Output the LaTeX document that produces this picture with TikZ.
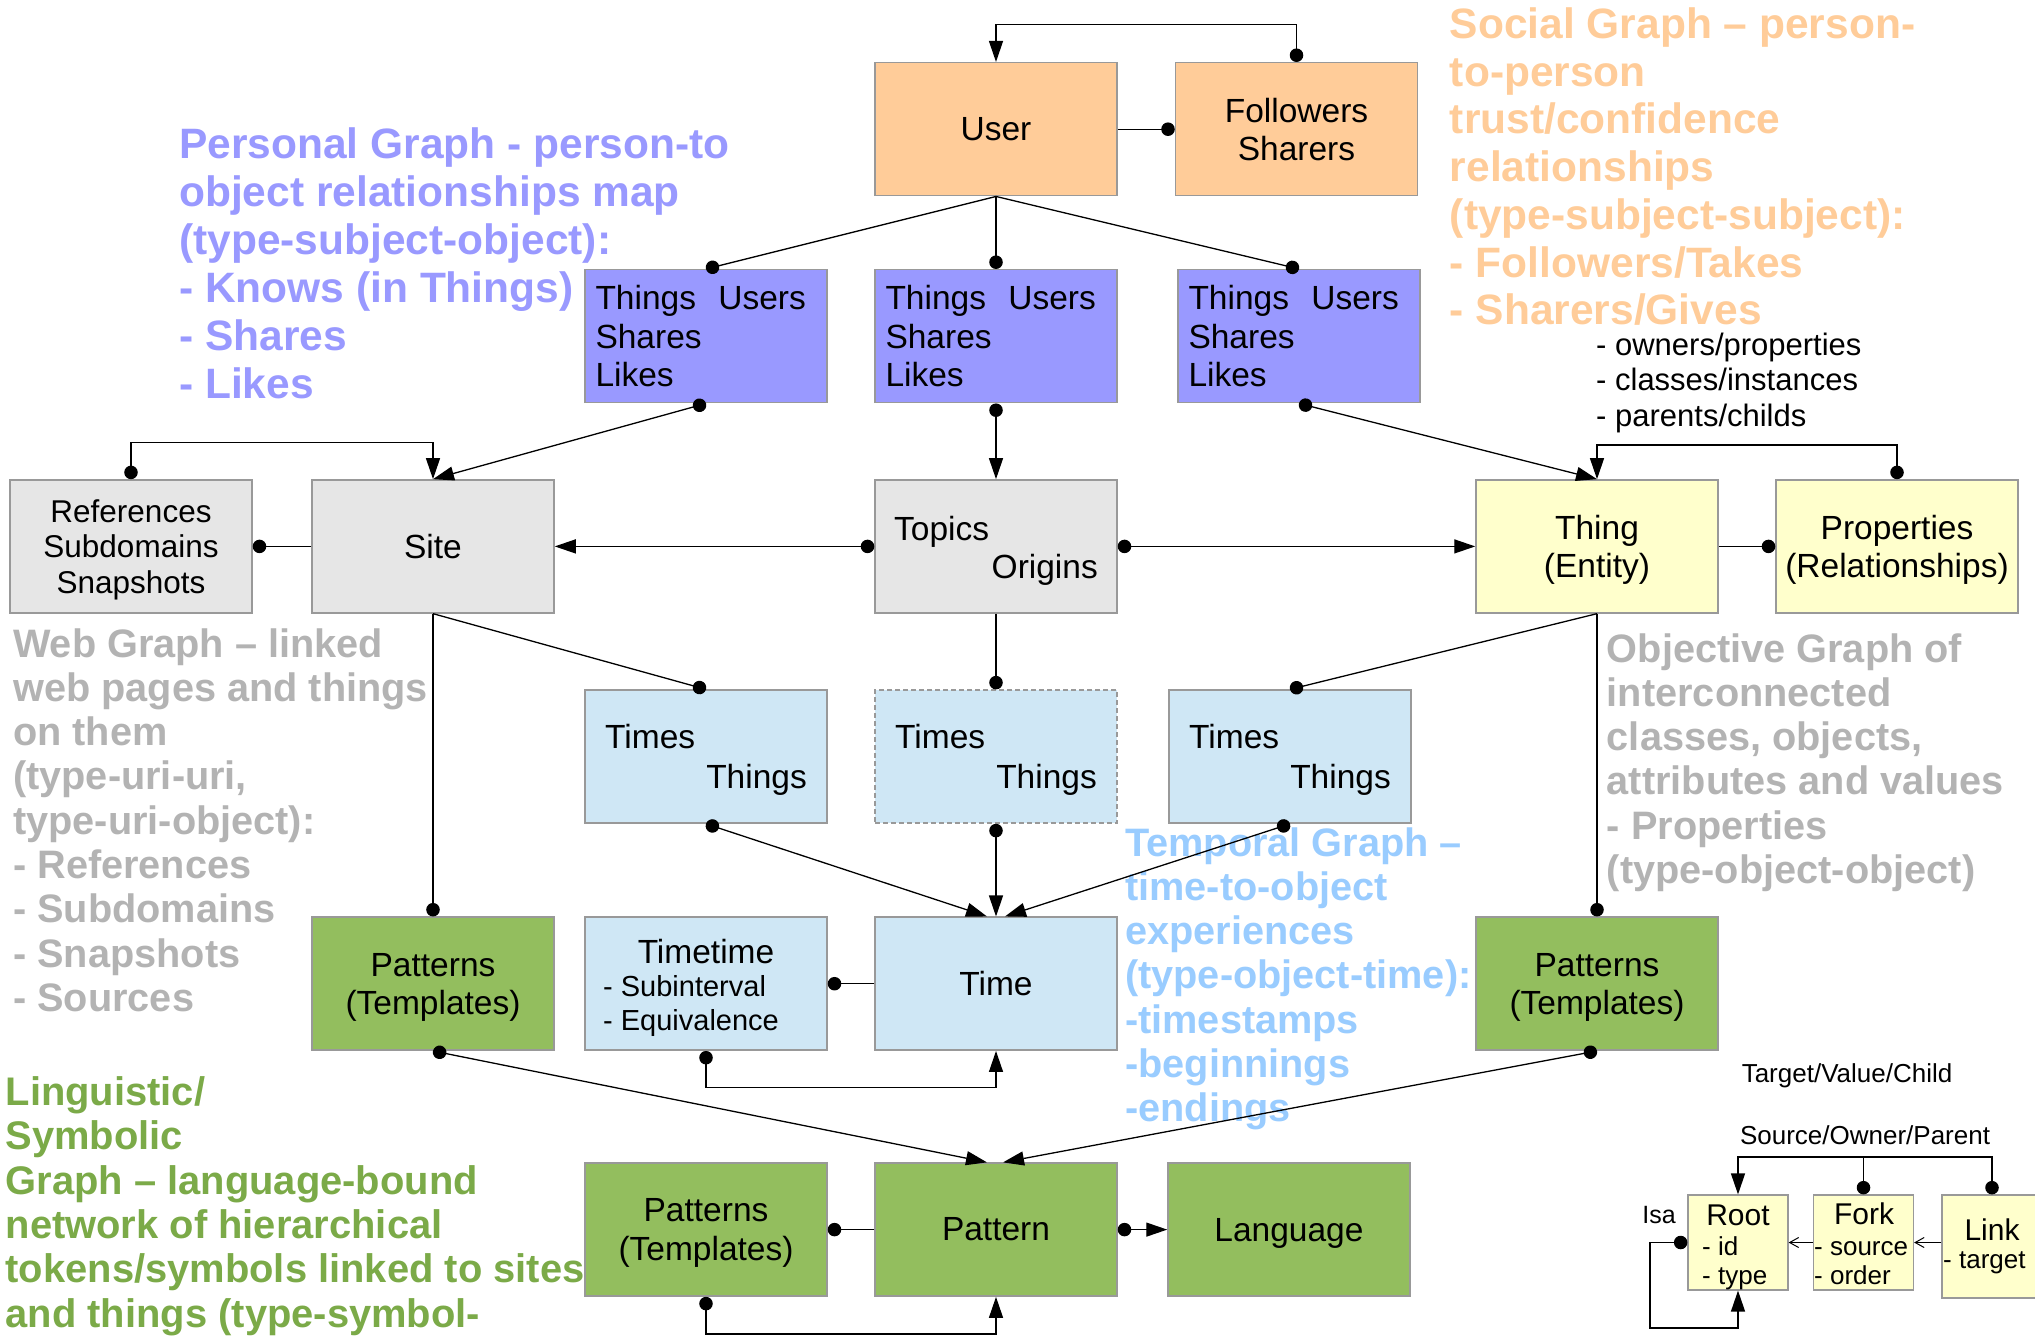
\documentclass[tikz,border=0pt]{standalone}
\usepackage{fontspec}
\setmainfont{Liberation Sans}
\usetikzlibrary{arrows.meta}

\definecolor{boxline}{HTML}{999999}
\definecolor{socialfill}{HTML}{FFCC99}
\definecolor{personalfill}{HTML}{9999FF}
\definecolor{webfill}{HTML}{E6E6E6}
\definecolor{objfill}{HTML}{FFFFCC}
\definecolor{timefill}{HTML}{CFE7F5}
\definecolor{langfill}{HTML}{93BE5E}
\definecolor{webtext}{HTML}{B3B3B3}
\definecolor{timetext}{HTML}{99CCFF}
\definecolor{langtext}{HTML}{7BAA48}

\tikzset{
  kdot/.tip={Circle[length=13.5pt]},
  ktri/.tip={Triangle[length=21pt,width=14pt]},
  kbarb/.tip={Straight Barb[length=9pt,width=10pt]},
}

\begin{document}
\begin{tikzpicture}[x=1pt,y=-1pt,
  box/.style={draw=boxline, line width=1.5pt, minimum width=242pt, minimum height=133pt,
    inner sep=0pt, align=center, font=\fontsize{33.5}{38.3}\selectfont},
  nodepth/.style={text depth=0pt},
  listbox/.style={box, text width=221pt, align=left},
  lbl/.style={inner sep=0pt, font=\fontsize{33.5}{38.3}\selectfont},
  sublbl/.style={inner sep=0pt, font=\fontsize{#1}{#1}\selectfont},
  note/.style={inner sep=0pt, font=\fontsize{#1}{#1}\bfseries\selectfont},
  legbox/.style={draw=boxline, line width=1.2pt, fill=objfill, minimum width=100pt,
    inner sep=0pt},
  conn/.style={line width=1.3pt, black},
]
\useasboundingbox (0,0) rectangle (2035,1342);

% ---------- descriptive captions of the sub-graphs ----------
\foreach \t [count=\i from 0] in {{Personal Graph - person-to},{object relationships map},
    {(type-subject-object):},{- Knows (in Things)},{- Shares},{- Likes}}
  \node[note=42.5, text=personalfill, anchor=base west] (pers\i) at (179,{158.7+48*\i}) {\t};

\foreach \t [count=\i from 0] in {{Social Graph – person-},{to-person},{trust/confidence},
    {relationships},{(type-subject-subject):},{- Followers/Takes},{- Sharers/Gives}}
  \node[note=42.5, text=socialfill, anchor=base west] (soc\i) at (1449.7,{38.5+47.7*\i}) {\t};

\foreach \t [count=\i from 0] in {{Web Graph – linked},{web pages and things},{on them},
    {(type-uri-uri,},{type-uri-object):},{- References},{- Subdomains},{- Snapshots},{- Sources}}
  \node[note=39.7, text=webtext, anchor=base west] (web\i) at (13,{657+44.3*\i}) {\t};

\foreach \t [count=\i from 0] in {{Objective Graph of},{interconnected},{classes, objects,},
    {attributes and values},{- Properties},{(type-object-object)}}
  \node[note=39.7, text=webtext, anchor=base west] (obj\i) at (1606.7,{662+44.3*\i}) {\t};

\foreach \t [count=\i from 0] in {{Temporal Graph –},{time-to-object},{experiences},
    {(type-object-time):},{-timestamps},{-beginnings},{-endings}}
  \node[note=39.7, text=timetext, anchor=base west] (tmp\i) at (1125,{856+44.3*\i}) {\t};

\foreach \t [count=\i from 0] in {{Linguistic/},{Symbolic},{Graph – language-bound},
    {network of hierarchical},{tokens/symbols linked to sites},{and things (type-symbol-}}
  \node[note=39.9, text=langtext, anchor=base west] (lng\i) at (5.5,{1105.5+44.3*\i}) {\t};

% ---------- social row ----------
\node[box, fill=socialfill] (user) at (996,129.2) {User};
\node[box, fill=socialfill] (foll) at (1296.5,129.2) {Followers\\Sharers};

% ---------- personal row ----------
\node[listbox, fill=personalfill] (lthings) at (706,336.2) {Things~~Users\\Shares\\Likes};
\node[listbox, fill=personalfill] (mthings) at (996,336.2) {Things~~Users\\Shares\\Likes};
\node[listbox, fill=personalfill] (rthings) at (1299,336.2) {Things~~Users\\Shares\\Likes};

% ---------- web / objective row ----------
\node[box, nodepth, fill=webfill, font=\fontsize{31.5}{35.7}\selectfont] (refs) at (131,546.4)
  {References\\Subdomains\\Snapshots};
\node[box, fill=webfill] (site) at (433,546.4) {Site};
\node[box, fill=webfill] (topics) at (996,546.4) {};
\node[lbl, anchor=base west] (topicsA) at (894,540) {Topics};
\node[lbl, anchor=base east] (topicsB) at (1098,578) {Origins};
\node[box, nodepth, fill=objfill] (thing) at (1597,546.4) {Thing\\(Entity)};
\node[box, nodepth, fill=objfill] (props) at (1897,546.4) {Properties\\(Relationships)};
\node[sublbl=31, anchor=base west] (own1) at (1596,355) {- owners/properties};
\node[sublbl=31, anchor=base west] (own2) at (1596,390.7) {- classes/instances};
\node[sublbl=31, anchor=base west] (own3) at (1596,426) {- parents/childs};

% ---------- temporal row ----------
\node[box, fill=timefill] (ltimes) at (706,756.6) {};
\node[box, fill=timefill, dash pattern=on 5pt off 3pt] (mtimes) at (996,756.6) {};
\node[box, fill=timefill] (rtimes) at (1290,756.6) {};
\foreach \n in {ltimes,mtimes,rtimes}{
  \node[lbl, anchor=base west] (\n A) at ([xshift=-101pt]\n.center) [yshift=8pt] {Times};
  \node[lbl, anchor=base east] (\n B) at ([xshift=101pt]\n.center) [yshift=-32pt] {Things};
}

% ---------- pattern / time row ----------
\node[box, nodepth, fill=langfill] (lpat) at (433,983.7) {Patterns\\(Templates)};
\node[box, fill=timefill] (timetime) at (706,983.7) {};
\node[lbl, anchor=base] (tt1) at (706,963) {Timetime};
\node[sublbl=29, anchor=base west] (tt2) at (603,996.4) {- Subinterval};
\node[sublbl=29, anchor=base west] (tt3) at (603,1030) {- Equivalence};
\node[box, fill=timefill] (time) at (996,983.7) {Time};
\node[box, nodepth, fill=langfill] (rpat) at (1597,983.7) {Patterns\\(Templates)};

% ---------- linguistic row ----------
\node[box, nodepth, fill=langfill] (ptb) at (706,1229.6) {Patterns\\(Templates)};
\node[box, fill=langfill] (pattern) at (996,1229.6) {Pattern};
\node[box, nodepth, fill=langfill] (lang) at (1289,1229.6) {Language};

% ---------- connectors ----------
\coordinate (t1) at (996,24.3);
\coordinate (t5) at (433,442.6);
\coordinate (t6) at (1597,445);
\coordinate (t7) at (996,1087.6);
\coordinate (t8) at (996,1334);

\draw[conn,kdot-ktri] (foll.north) |- (t1) -- (user.north);
\draw[conn,-kdot] (user.east) -- (foll.west);
\draw[conn,-kdot] (user.south) -- (lthings.north);
\draw[conn,-kdot] (user.south) -- (mthings.north);
\draw[conn,-kdot] (user.south) -- (rthings.north);

\draw[conn,kdot-ktri] (lthings.south) -- (site.north);
\draw[conn,kdot-ktri] (mthings.south) -- (topics.north);
\draw[conn,kdot-ktri] (rthings.south) -- (thing.north);

\draw[conn,kdot-ktri] (refs.north) |- (t5) -- (site.north);
\draw[conn,-kdot] (site.west) -- (refs.east);
\draw[conn,kdot-ktri] (topics.west) -- (site.east);
\draw[conn,kdot-ktri] (topics.east) -- (thing.west);
\draw[conn,-kdot] (thing.east) -- (props.west);
\draw[conn,kdot-ktri] (props.north) |- (t6) -- (thing.north);

\draw[conn,-kdot] (site.south) -- (ltimes.north);
\draw[conn,-kdot] (topics.south) -- (mtimes.north);
\draw[conn,-kdot] (thing.south) -- (rtimes.north);
\draw[conn,-kdot] (site.south) -- (lpat.north);
\draw[conn,-kdot] (thing.south) -- (rpat.north);

\draw[conn,kdot-ktri] (ltimes.south) -- ([xshift=-9pt]time.north);
\draw[conn,kdot-ktri] (mtimes.south) -- (time.north);
\draw[conn,kdot-ktri] (rtimes.south) -- ([xshift=9pt]time.north);
\draw[conn,-kdot] (time.west) -- (timetime.east);
\draw[conn,kdot-ktri] (timetime.south) |- (t7) -- (time.south);

\draw[conn,kdot-ktri] (lpat.south) -- ([xshift=-9pt]pattern.north);
\draw[conn,kdot-ktri] (rpat.south) -- ([xshift=7pt]pattern.north);
\draw[conn,-kdot] (pattern.west) -- (ptb.east);
\draw[conn,kdot-ktri] (pattern.east) -- (lang.west);
\draw[conn,kdot-ktri] (ptb.south) |- (t8) -- (pattern.south);

% ---------- legend ----------
\node[sublbl=26, anchor=base] (tvc) at (1847,1082) {Target/Value/Child};
\node[sublbl=26, anchor=base] (sop) at (1865,1144) {Source/Owner/Parent};
\node[sublbl=25, anchor=base] (isa) at (1659,1223) {Isa};

\node[legbox, minimum height=95pt] (root) at (1738,1242.5) {};
\node[legbox, minimum height=95pt] (fork) at (1863.5,1242.5) {};
\node[legbox, minimum height=103pt] (link) at (1992,1246.5) {};

\node[sublbl=30, anchor=base] (rootT) at (1738,1225) {Root};
\node[sublbl=26, anchor=base west] (rootA) at (1702,1255) {- id};
\node[sublbl=26, anchor=base west] (rootB) at (1702,1284) {- type};
\node[sublbl=30, anchor=base] (forkT) at (1864,1224) {Fork};
\node[sublbl=26, anchor=base west] (forkA) at (1814,1255) {- source};
\node[sublbl=26, anchor=base west] (forkB) at (1814,1284) {- order};
\node[sublbl=30, anchor=base] (linkT) at (1992,1240) {Link};
\node[sublbl=26, anchor=base west] (linkA) at (1943,1268) {- target};

\coordinate (t9) at (1738,1157);
\coordinate (i1) at (1650,1242.5);
\coordinate (i2) at (1738,1328);
\draw[conn,kdot-ktri] (link.north) |- (t9) -- (root.north);
\draw[conn,kdot-] (fork.north) -- (fork.north |- t9);
\draw[conn,kdot-ktri] (root.west) -- (i1) |- (i2) -- (root.south);
\draw[line width=1pt,-kbarb] (fork.west) -- (root.east);
\draw[line width=1pt,-kbarb] (link.west |- fork.east) -- (fork.east);
\end{tikzpicture}
\end{document}
